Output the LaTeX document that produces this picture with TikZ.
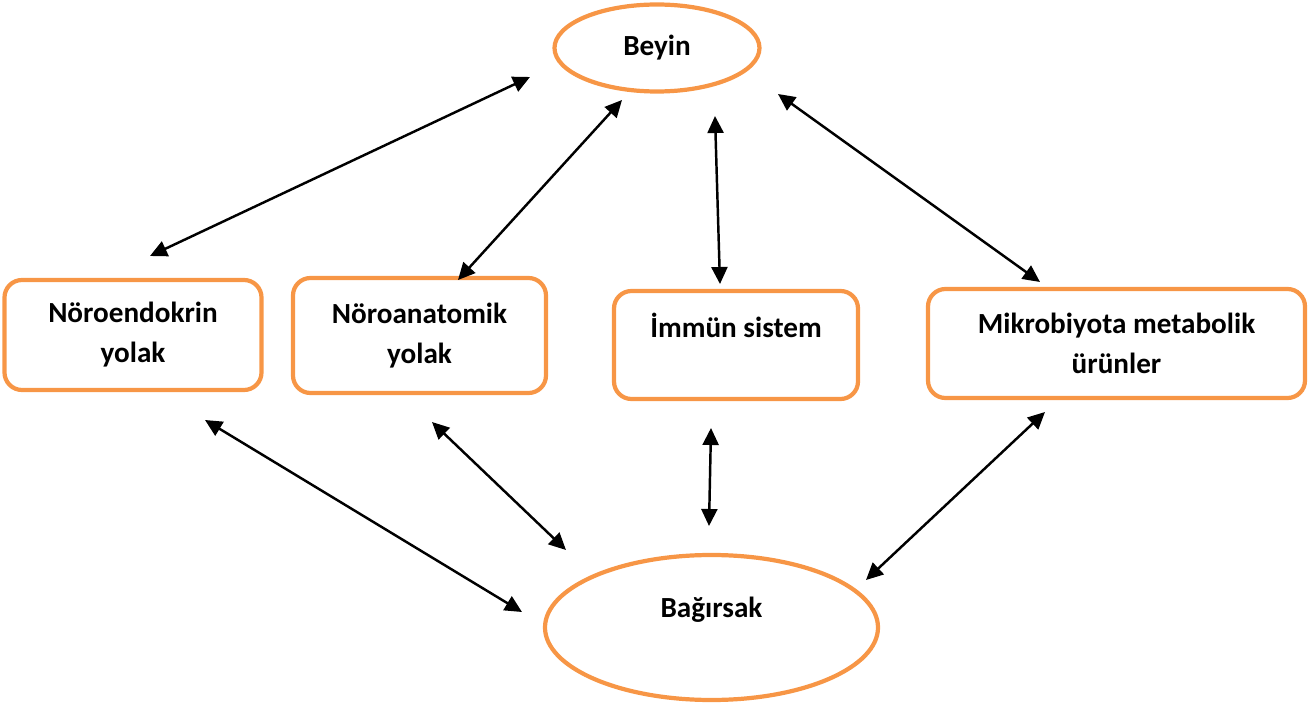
\documentclass[tikz,border=0pt]{standalone}
\usepackage{fontspec}
\setmainfont{Carlito}
\usetikzlibrary{arrows.meta,shapes.geometric}
\definecolor{boxorange}{HTML}{F79646}

\tikzset{
  yolbox/.style = {draw=boxorange, line width=2.4pt, rounded corners=0.35cm, align=center},
  organ/.style = {draw=boxorange, line width=2.4pt, ellipse, align=center},
  link/.style = {{Triangle[length=3.4mm,width=3.2mm]}-{Triangle[length=3.4mm,width=3.2mm]}, line width=1.4pt}
}

\begin{document}
\begin{tikzpicture}[font = \fontsize{16.6}{22.7}\selectfont\bfseries]
  \useasboundingbox (0,0) rectangle (26.2,-14.12);

  %%% organs %%%
  \node[organ, minimum width=4.1cm, minimum height=1.74cm] (beyin) at (13.14,-0.96) {Beyin};
  \node[organ, minimum width=6.66cm, minimum height=2.9cm] (bagirsak) at (14.23,-12.55) {Bağırsak\\\mbox{}};

  %%% pathways %%%
  \node[yolbox, minimum width=5.14cm, minimum height=2.2cm] (endo) at (2.66,-6.70) {Nöroendokrin\\yolak};
  \node[yolbox, minimum width=5.06cm, minimum height=2.3cm] (anat) at (8.39,-6.71) {Nöroanatomik\\yolak};
  \node[yolbox, minimum width=4.88cm, minimum height=2.16cm] (immun) at (14.72,-6.90) {İmmün sistem\\\mbox{}};
  \node[yolbox, minimum width=7.54cm, minimum height=2.18cm] (metab) at (22.33,-6.87) {Mikrobiyota metabolik\\ürünler};

  %%% arrow ends %%%
  % upper row
  \coordinate (beyin-endo) at (10.60,-1.54);
  \coordinate (endo-beyin) at (3.00,-5.12);
  \coordinate (beyin-anat) at (12.44,-2.00);
  \coordinate (anat-beyin) at (9.16,-5.60);
  \coordinate (beyin-immun) at (14.30,-2.32);
  \coordinate (immun-beyin) at (14.40,-5.68);
  \coordinate (beyin-metab) at (15.56,-1.88);
  \coordinate (metab-beyin) at (20.80,-5.64);
  % lower row
  \coordinate (endo-bag) at (4.10,-8.40);
  \coordinate (bag-endo) at (10.44,-12.24);
  \coordinate (anat-bag) at (8.64,-8.44);
  \coordinate (bag-anat) at (11.32,-11.00);
  \coordinate (immun-bag) at (14.22,-8.56);
  \coordinate (bag-immun) at (14.18,-10.52);
  \coordinate (metab-bag) at (20.90,-8.24);
  \coordinate (bag-metab) at (17.32,-11.60);

  %%% arrows %%%
  \draw[link] (beyin-endo) -- (endo-beyin);
  \draw[link] (beyin-anat) -- (anat-beyin);
  \draw[link] (beyin-immun) -- (immun-beyin);
  \draw[link] (beyin-metab) -- (metab-beyin);
  \draw[link] (endo-bag) -- (bag-endo);
  \draw[link] (anat-bag) -- (bag-anat);
  \draw[link] (immun-bag) -- (bag-immun);
  \draw[link] (metab-bag) -- (bag-metab);
\end{tikzpicture}
\end{document}
